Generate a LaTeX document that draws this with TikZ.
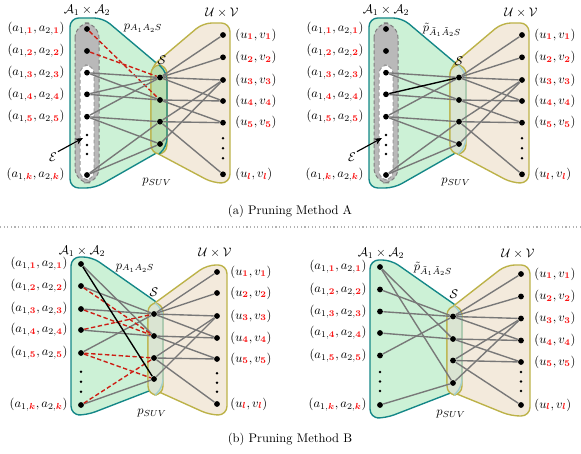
\documentclass[tikz,border=0pt]{standalone}
\usepackage{amsmath,amssymb,bm}
\usetikzlibrary{arrows.meta}

\definecolor{setgreen}{RGB}{204,241,214}
\definecolor{setteal}{RGB}{20,135,135}
\definecolor{setbeige}{RGB}{243,234,220}
\definecolor{setolive}{RGB}{188,178,72}
\definecolor{overlapdark}{RGB}{186,222,176}
\definecolor{overlaplight}{RGB}{218,228,210}
\definecolor{linkgray}{RGB}{120,120,120}
\definecolor{cutred}{RGB}{205,30,20}
\definecolor{idxred}{RGB}{250,20,20}

\newcommand{\rb}[1]{\textcolor{idxred}{\boldsymbol{#1}}}

\tikzset{every picture/.style={line width=0.75pt}}
\tikzset{
  pt/.style={circle,fill=black,inner sep=0pt,minimum size=4.6pt},
  gapdot/.style={circle,fill=black,inner sep=0pt,minimum size=2.2pt},
  link/.style={draw=linkgray,line width=1.1pt},
  cutlink/.style={draw=cutred,line width=1.1pt,dash pattern=on 3.5pt off 2pt},
  keptlink/.style={draw=black,line width=1.1pt},
  leftset/.style={fill=setgreen,draw=setteal,line width=1.1pt,rounded corners=7pt},
  rightset/.style={fill=setbeige,draw=setolive,line width=1.1pt,rounded corners=7pt},
  lbl/.style={inner sep=0pt},
  tag/.style={inner sep=0.5pt}
}

\begin{document}
\begin{tikzpicture}[x=0.8pt,y=-0.8pt]
	\useasboundingbox (0,0) rectangle (581,454);

	%%%%%%%%%% (a) left : before pruning
	\begin{scope}[shift={(87,29)}]
	%Shape: left set
	\draw [leftset] (-17,-11) -- (16,-11) -- (80,43) -- (80,118) -- (8,159) -- (-17,159) -- cycle ;
	%Shape: right set
	\draw [rightset] (116,-6) -- (143,-6) -- (143,154) -- (126,154) -- (64,121) -- (64,38) -- cycle ;
	%Shape: S
	\draw [fill=overlapdark,draw=setolive,line width=1.1pt,rounded corners=7pt] (64,36) rectangle (80,125) ;
	\draw [draw=setteal,line width=1.1pt,rounded corners=7pt] (72,36) -- (80,43) -- (80,118) -- (72,125) ;
	%Shape: capsules
	\draw [fill=gray!55,draw=gray,densely dashed,line width=0.8pt,rounded corners=12pt] (-12,-6) rectangle (12,154) ;
	\draw [fill=white,draw=gray!80,densely dashed,line width=0.8pt,rounded corners=7pt] (-7,36) rectangle (7,151) ;

	% nodes
	\node [pt] (Al1) at (0,0) {};
	\node [pt] (Al2) at (0,22) {};
	\node [pt] (Al3) at (0,43.7) {};
	\node [pt] (Al4) at (0,65.3) {};
	\node [pt] (Al5) at (0,87.7) {};
	\node [pt] (Alk) at (0,146) {};
	\foreach \y in {106,116,125} \node [gapdot] at (0,\y) {};
	\node [pt] (As1) at (73,48.5) {};
	\node [pt] (As2) at (73,71) {};
	\node [pt] (As3) at (73,92.7) {};
	\node [pt] (As4) at (73,115) {};
	\node [pt] (Ar1) at (136,6) {};
	\node [pt] (Ar2) at (136,28.3) {};
	\node [pt] (Ar3) at (136,51) {};
	\node [pt] (Ar4) at (136,72) {};
	\node [pt] (Ar5) at (136,93.7) {};
	\node [pt] (Arl) at (136,145.3) {};
	\foreach \y in {109.3,119.3,129.3} \node [gapdot] at (136,\y) {};

	% links
	\draw [cutlink] (Al1) -- (As2) ;
	\draw [cutlink] (Al2) -- (As1) ;
	\foreach \a/\b in {l3/s1,l3/s2,l4/s1,l4/s2,l5/s1,l5/s3,l5/s4,lk/s3,lk/s4,s1/r1,s1/r2,s1/r3,s1/r4,s2/r4,s2/r5,s3/r3,s3/r5,s3/rl,s4/r3}
		\draw [link] (A\a) -- (A\b) ;

	% Text Node
	\node [lbl,anchor=east] (Atl1) at (-22,0) {$(a_{1,\rb{1}},a_{2,\rb{1}})$};
	\node [lbl,anchor=east] (Atl2) at (-22,22) {$(a_{1,\rb{2}},a_{2,\rb{2}})$};
	\node [lbl,anchor=east] (Atl3) at (-22,43.7) {$(a_{1,\rb{3}},a_{2,\rb{3}})$};
	\node [lbl,anchor=east] (Atl4) at (-22,65.3) {$(a_{1,\rb{4}},a_{2,\rb{4}})$};
	\node [lbl,anchor=east] (Atl5) at (-22,87.7) {$(a_{1,\rb{5}},a_{2,\rb{5}})$};
	\node [lbl,anchor=east] (Atlk) at (-22,146) {$(a_{1,\rb{k}},a_{2,\rb{k}})$};
	\node [lbl,anchor=west] (Atr1) at (148,6) {$(u_{\rb{1}},v_{\rb{1}})$};
	\node [lbl,anchor=west] (Atr2) at (148,28.3) {$(u_{\rb{2}},v_{\rb{2}})$};
	\node [lbl,anchor=west] (Atr3) at (148,51) {$(u_{\rb{3}},v_{\rb{3}})$};
	\node [lbl,anchor=west] (Atr4) at (148,72) {$(u_{\rb{4}},v_{\rb{4}})$};
	\node [lbl,anchor=west] (Atr5) at (148,93.7) {$(u_{\rb{5}},v_{\rb{5}})$};
	\node [lbl,anchor=west] (Atrl) at (148,145.3) {$(u_{\rb{l}},v_{\rb{l}})$};
	\node [tag] (Atitle) at (0,-19) {$\mathcal{A}_1\times\mathcal{A}_2$};
	\node [tag] (Autitle) at (135,-16) {$\mathcal{U}\times\mathcal{V}$};
	\node [tag] (Ap) at (56,-1) {$p_{A_1A_2S}$};
	\node [tag] (AS) at (75,31) {$\mathcal{S}$};
	\node [tag] (Apsuv) at (70,153) {$p_{SUV}$};
	\node [tag] (AE) at (-34,128) {$\mathcal{E}$};
	\coordinate (AEend) at (-4,109) ;
	\draw [-{Stealth[length=6pt,width=5pt]},line width=0.9pt] (AE.north east) -- (AEend) ;
	\end{scope}

	%%%%%%%%%% (a) right : after pruning
	\begin{scope}[shift={(299,0)},shift={(87,29)}]
	%Shape: left set
	\draw [leftset] (-17,-11) -- (16,-11) -- (80,43) -- (80,118) -- (8,159) -- (-17,159) -- cycle ;
	%Shape: right set
	\draw [rightset] (116,-6) -- (143,-6) -- (143,154) -- (126,154) -- (64,121) -- (64,38) -- cycle ;
	%Shape: S
	\draw [fill=overlaplight,draw=setolive,line width=1.1pt,rounded corners=7pt] (64,36) rectangle (80,125) ;
	\draw [draw=setteal!40,line width=1.1pt,rounded corners=7pt] (72,36) -- (80,43) -- (80,118) -- (72,125) ;
	%Shape: capsules
	\draw [fill=gray!55,draw=gray,densely dashed,line width=0.8pt,rounded corners=12pt] (-12,-6) rectangle (12,154) ;
	\draw [fill=white,draw=gray!80,densely dashed,line width=0.8pt,rounded corners=7pt] (-7,36) rectangle (7,151) ;

	% nodes
	\node [pt] (Bl1) at (0,0) {};
	\node [pt] (Bl2) at (0,22) {};
	\node [pt] (Bl3) at (0,43.7) {};
	\node [pt] (Bl4) at (0,65.3) {};
	\node [pt] (Bl5) at (0,87.7) {};
	\node [pt] (Blk) at (0,146) {};
	\foreach \y in {106,116,125} \node [gapdot] at (0,\y) {};
	\node [pt] (Bs1) at (73,48.5) {};
	\node [pt] (Bs2) at (73,71) {};
	\node [pt] (Bs3) at (73,92.7) {};
	\node [pt] (Bs4) at (73,115) {};
	\node [pt] (Br1) at (136,6) {};
	\node [pt] (Br2) at (136,28.3) {};
	\node [pt] (Br3) at (136,51) {};
	\node [pt] (Br4) at (136,72) {};
	\node [pt] (Br5) at (136,93.7) {};
	\node [pt] (Brl) at (136,145.3) {};
	\foreach \y in {109.3,119.3,129.3} \node [gapdot] at (136,\y) {};

	% links
	\foreach \a/\b in {l3/s1,l3/s2,l4/s2,l5/s1,l5/s3,l5/s4,lk/s3,lk/s4,s1/r1,s1/r2,s1/r3,s1/r4,s2/r4,s2/r5,s3/r3,s3/r5,s3/rl,s4/r3}
		\draw [link] (B\a) -- (B\b) ;
	\draw [keptlink] (Bl4) -- (Bs1) ;

	% Text Node
	\node [lbl,anchor=east] (Btl1) at (-22,0) {$(a_{1,\rb{1}},a_{2,\rb{1}})$};
	\node [lbl,anchor=east] (Btl2) at (-22,22) {$(a_{1,\rb{2}},a_{2,\rb{2}})$};
	\node [lbl,anchor=east] (Btl3) at (-22,43.7) {$(a_{1,\rb{3}},a_{2,\rb{3}})$};
	\node [lbl,anchor=east] (Btl4) at (-22,65.3) {$(a_{1,\rb{4}},a_{2,\rb{4}})$};
	\node [lbl,anchor=east] (Btl5) at (-22,87.7) {$(a_{1,\rb{5}},a_{2,\rb{5}})$};
	\node [lbl,anchor=east] (Btlk) at (-22,146) {$(a_{1,\rb{k}},a_{2,\rb{k}})$};
	\node [lbl,anchor=west] (Btr1) at (148,6) {$(u_{\rb{1}},v_{\rb{1}})$};
	\node [lbl,anchor=west] (Btr2) at (148,28.3) {$(u_{\rb{2}},v_{\rb{2}})$};
	\node [lbl,anchor=west] (Btr3) at (148,51) {$(u_{\rb{3}},v_{\rb{3}})$};
	\node [lbl,anchor=west] (Btr4) at (148,72) {$(u_{\rb{4}},v_{\rb{4}})$};
	\node [lbl,anchor=west] (Btr5) at (148,93.7) {$(u_{\rb{5}},v_{\rb{5}})$};
	\node [lbl,anchor=west] (Btrl) at (148,145.3) {$(u_{\rb{l}},v_{\rb{l}})$};
	\node [tag] (Btitle) at (0,-19) {$\mathcal{A}_1\times\mathcal{A}_2$};
	\node [tag] (Butitle) at (135,-16) {$\mathcal{U}\times\mathcal{V}$};
	\node [tag] (Bp) at (56,1) {$\tilde{p}_{\tilde{A}_1\tilde{A}_2S}$};
	\node [tag] (BS) at (73,32) {$\mathcal{S}$};
	\node [tag] (Bpsuv) at (70,153) {$p_{SUV}$};
	\node [tag] (BE) at (-34,128) {$\mathcal{E}$};
	\coordinate (BEend) at (-4,109) ;
	\draw [-{Stealth[length=6pt,width=5pt]},line width=0.9pt] (BE.north east) -- (BEend) ;
	\end{scope}

	% Caption (a)
	\node (capa) at (290,211) {(a) Pruning Method A};
	%Straight Lines: separator
	\draw [gray!60,dotted,line width=0.9pt] (0,227) -- (581,227) ;

	%%%%%%%%%% (b) left : before pruning
	\begin{scope}[shift={(81,264)}]
	%Shape: left set
	\draw [leftset] (-10,-7) -- (11,-7) -- (81,42) -- (81,122) -- (6,151) -- (-10,151) -- cycle ;
	%Shape: right set
	\draw [rightset] (126,1) -- (146,1) -- (146,151) -- (129,151) -- (67,123) -- (67,44) -- cycle ;
	%Shape: S
	\draw [fill=overlaplight,draw=setolive,line width=1.1pt,rounded corners=7pt] (67,39) rectangle (82,131) ;
	\draw [draw=setteal!40,line width=1.1pt,rounded corners=7pt] (74,39) -- (82,45) -- (82,124) -- (74,131) ;

	% nodes
	\node [pt] (Cl1) at (0,0) {};
	\node [pt] (Cl2) at (0,22) {};
	\node [pt] (Cl3) at (0,45) {};
	\node [pt] (Cl4) at (0,66) {};
	\node [pt] (Cl5) at (0,89) {};
	\node [pt] (Clk) at (0,141) {};
	\foreach \y in {107.7,117.7,127.7} \node [gapdot] at (0,\y) {};
	\node [pt] (Cs1) at (73,50) {};
	\node [pt] (Cs2) at (73,72) {};
	\node [pt] (Cs3) at (73,94) {};
	\node [pt] (Cs4) at (73,115) {};
	\node [pt] (Cr1) at (136,8) {};
	\node [pt] (Cr2) at (136,29) {};
	\node [pt] (Cr3) at (136,52) {};
	\node [pt] (Cr4) at (136,74) {};
	\node [pt] (Cr5) at (136,95) {};
	\node [pt] (Crl) at (136,140) {};
	\foreach \y in {109.3,118.7,127.7} \node [gapdot] at (136,\y) {};

	% links
	\foreach \a/\b in {l1/s2,l2/s1,l3/s1,l4/s2,l5/s1,lk/s4,s1/r1,s1/r2,s1/r3,s1/r4,s2/r4,s2/r5,s3/r3,s3/r5,s3/rl,s4/r3}
		\draw [link] (C\a) -- (C\b) ;
	\foreach \a/\b in {l2/s2,l3/s2,l4/s1,l5/s3,l5/s4,lk/s3}
		\draw [cutlink] (C\a) -- (C\b) ;
	\draw [keptlink] (Cl1) -- (Cs4) ;

	% Text Node
	\node [lbl,anchor=east] (Ctl1) at (-13,0) {$(a_{1,\rb{1}},a_{2,\rb{1}})$};
	\node [lbl,anchor=east] (Ctl2) at (-13,22) {$(a_{1,\rb{2}},a_{2,\rb{2}})$};
	\node [lbl,anchor=east] (Ctl3) at (-13,45) {$(a_{1,\rb{3}},a_{2,\rb{3}})$};
	\node [lbl,anchor=east] (Ctl4) at (-13,66) {$(a_{1,\rb{4}},a_{2,\rb{4}})$};
	\node [lbl,anchor=east] (Ctl5) at (-13,89) {$(a_{1,\rb{5}},a_{2,\rb{5}})$};
	\node [lbl,anchor=east] (Ctlk) at (-13,141) {$(a_{1,\rb{k}},a_{2,\rb{k}})$};
	\node [lbl,anchor=west] (Ctr1) at (149,8) {$(u_{\rb{1}},v_{\rb{1}})$};
	\node [lbl,anchor=west] (Ctr2) at (149,29) {$(u_{\rb{2}},v_{\rb{2}})$};
	\node [lbl,anchor=west] (Ctr3) at (149,52) {$(u_{\rb{3}},v_{\rb{3}})$};
	\node [lbl,anchor=west] (Ctr4) at (149,74) {$(u_{\rb{4}},v_{\rb{4}})$};
	\node [lbl,anchor=west] (Ctr5) at (149,95) {$(u_{\rb{5}},v_{\rb{5}})$};
	\node [lbl,anchor=west] (Ctrl) at (149,140) {$(u_{\rb{l}},v_{\rb{l}})$};
	\node [tag] (Ctitle) at (1,-13) {$\mathcal{A}_1\times\mathcal{A}_2$};
	\node [tag] (Cutitle) at (134,-11) {$\mathcal{U}\times\mathcal{V}$};
	\node [tag] (Cp) at (54,4) {$p_{A_1A_2S}$};
	\node [tag] (CS) at (73,28) {$\mathcal{S}$};
	\node [tag] (Cpsuv) at (71,149) {$p_{SUV}$};
	\end{scope}

	%%%%%%%%%% (b) right : after pruning
	\begin{scope}[shift={(299,3)},shift={(81,264)}]
	%Shape: left set
	\draw [leftset] (-10,-7) -- (11,-7) -- (81,42) -- (81,122) -- (6,151) -- (-10,151) -- cycle ;
	%Shape: right set
	\draw [rightset] (126,-2) -- (150,-2) -- (150,149) -- (131,149) -- (67,123) -- (67,44) -- cycle ;
	%Shape: S
	\draw [fill=overlaplight,draw=setolive,line width=1.1pt,rounded corners=7pt] (67,39) rectangle (82,128) ;
	\draw [draw=setteal!40,line width=1.1pt,rounded corners=7pt] (74,39) -- (82,45) -- (82,121) -- (74,128) ;

	% nodes
	\node [pt] (Dl1) at (0,0) {};
	\node [pt] (Dl2) at (0,22.5) {};
	\node [pt] (Dl3) at (0,44.5) {};
	\node [pt] (Dl4) at (0,66) {};
	\node [pt] (Dl5) at (0,88.5) {};
	\node [pt] (Dlk) at (0,138) {};
	\foreach \y in {105,114.5,124} \node [gapdot] at (0,\y) {};
	\node [pt] (Ds1) at (73,49.5) {};
	\node [pt] (Ds2) at (73,72) {};
	\node [pt] (Ds3) at (73,93.5) {};
	\node [pt] (Ds4) at (73,116) {};
	\node [pt] (Dr1) at (141,7) {};
	\node [pt] (Dr2) at (141,29.5) {};
	\node [pt] (Dr3) at (141,51.5) {};
	\node [pt] (Dr4) at (141,73.5) {};
	\node [pt] (Dr5) at (141,95) {};
	\node [pt] (Drl) at (141,138) {};
	\foreach \y in {105,114.5,124} \node [gapdot] at (141,\y) {};

	% links
	\foreach \a/\b in {l1/s2,l1/s4,l2/s1,l3/s1,l4/s2,l5/s1,lk/s4,s1/r1,s1/r2,s1/r3,s1/r4,s2/r4,s2/r5,s3/r3,s3/r5,s3/rl,s4/r3}
		\draw [link] (D\a) -- (D\b) ;

	% Text Node
	\node [lbl,anchor=east] (Dtl1) at (-13,0) {$(a_{1,\rb{1}},a_{2,\rb{1}})$};
	\node [lbl,anchor=east] (Dtl2) at (-13,22.5) {$(a_{1,\rb{2}},a_{2,\rb{2}})$};
	\node [lbl,anchor=east] (Dtl3) at (-13,44.5) {$(a_{1,\rb{3}},a_{2,\rb{3}})$};
	\node [lbl,anchor=east] (Dtl4) at (-13,66) {$(a_{1,\rb{4}},a_{2,\rb{4}})$};
	\node [lbl,anchor=east] (Dtl5) at (-13,88.5) {$(a_{1,\rb{5}},a_{2,\rb{5}})$};
	\node [lbl,anchor=east] (Dtlk) at (-13,138) {$(a_{1,\rb{k}},a_{2,\rb{k}})$};
	\node [lbl,anchor=west] (Dtr1) at (154,7) {$(u_{\rb{1}},v_{\rb{1}})$};
	\node [lbl,anchor=west] (Dtr2) at (154,29.5) {$(u_{\rb{2}},v_{\rb{2}})$};
	\node [lbl,anchor=west] (Dtr3) at (154,51.5) {$(u_{\rb{3}},v_{\rb{3}})$};
	\node [lbl,anchor=west] (Dtr4) at (154,73.5) {$(u_{\rb{4}},v_{\rb{4}})$};
	\node [lbl,anchor=west] (Dtr5) at (154,95) {$(u_{\rb{5}},v_{\rb{5}})$};
	\node [lbl,anchor=west] (Dtrl) at (154,138) {$(u_{\rb{l}},v_{\rb{l}})$};
	\node [tag] (Dtitle) at (1,-14) {$\mathcal{A}_1\times\mathcal{A}_2$};
	\node [tag] (Dutitle) at (138,-13) {$\mathcal{U}\times\mathcal{V}$};
	\node [tag] (Dp) at (53,2) {$\tilde{p}_{\tilde{A}_1\tilde{A}_2S}$};
	\node [tag] (DS) at (74,27) {$\mathcal{S}$};
	\node [tag] (Dpsuv) at (71,147) {$p_{SUV}$};
	\end{scope}

	% Caption (b)
	\node (capb) at (290,439) {(b) Pruning Method B};
\end{tikzpicture}
\end{document}
